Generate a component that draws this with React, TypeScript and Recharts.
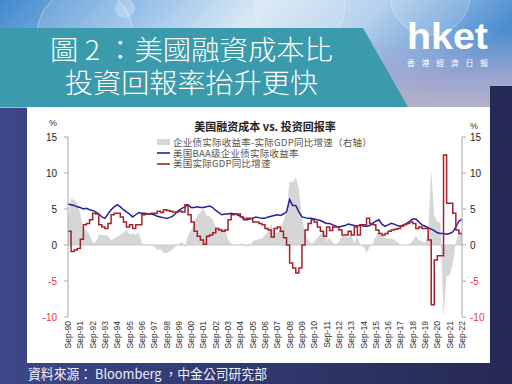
import React from 'react';
import { ComposedChart, Area, Line, XAxis, YAxis, ReferenceLine, Legend } from 'recharts';

// Quarterly observations, Sep-90 .. Sep-22
const QUARTER_MONTHS = ['Sep', 'Dec', 'Mar', 'Jun'];
const FIRST_YEAR = 90;
const N_POINTS = 129;

// 美国BAA级企业债实际收益率 (%)
const baaRealYield: number[] = [
  5.7, 5.6, 5.5, 5.3,
  5.2, 5.0, 5.1, 4.9,
  4.8, 4.6, 4.3, 3.9,
  3.7, 4.3, 4.9, 5.3,
  5.6, 5.3, 4.9, 4.6,
  4.3, 3.9, 4.2, 4.5,
  4.4, 4.4, 4.3, 4.3,
  4.2, 4.0, 3.9, 3.8,
  3.7, 3.8, 4.0, 4.4,
  4.8, 5.1, 5.3, 5.6,
  5.2, 5.2, 5.3, 5.2,
  5.2, 5.3, 5.4, 5.2,
  4.8, 4.5, 4.2, 4.3,
  4.3, 4.4, 4.3, 4.2,
  4.0, 3.7, 3.5, 3.6,
  3.7, 3.9, 3.8, 3.7,
  3.7, 3.9, 4.0, 4.1,
  4.2, 4.1, 4.3, 4.6,
  6.3, 5.5, 5.5, 4.6,
  3.9, 3.8, 3.7, 3.7,
  3.6, 3.5, 3.4, 3.2,
  3.0, 3.0, 2.8, 2.6,
  2.5, 2.6, 2.7, 2.9,
  2.8, 2.7, 2.6, 2.8,
  2.6, 2.6, 2.7, 3.0,
  3.3, 3.5, 2.9, 2.6,
  2.8, 3.0, 2.9, 2.7,
  2.6, 2.8, 3.0, 3.3,
  3.6, 3.6, 3.2, 2.8,
  2.6, 2.4, 2.2, 2.0,
  1.7, 1.6, 1.6, 1.5,
  1.6, 1.8, 2.5, 3.3,
  3.6,
];

// 美国实际GDP同比增速 (%)
const realGdpYoy: number[] = [
  1.9, -0.9, -0.7, -0.5,
  0.8, 2.8, 3.0, 3.5,
  4.4, 4.3, 2.8, 2.5,
  2.3, 3.0, 4.2, 4.4,
  4.4, 3.9, 3.2, 2.5,
  2.8, 2.3, 2.8, 2.8,
  4.2, 4.3, 4.3, 4.4,
  4.4, 4.7, 4.5, 4.9,
  4.8, 4.7, 4.6, 4.6,
  4.7, 4.6, 5.6, 4.2,
  3.2, 1.9, 1.2, 0.7,
  0.1, 1.2, 1.4, 1.7,
  2.3, 2.1, 1.9, 2.1,
  3.5, 4.2, 4.3, 4.3,
  3.9, 3.5, 3.7, 3.7,
  3.2, 3.2, 3.0, 2.8,
  2.3, 2.1, 1.1, 2.3,
  2.5, 1.9, 1.0, 0.0,
  -2.5, -3.2, -3.9, -3.2,
  0.0, 2.1, 3.0, 3.5,
  3.2, 2.5, 1.9, 1.2,
  2.5, 2.0, 2.5, 2.5,
  2.1, 1.4, 1.4, 1.9,
  1.4, 2.5, 1.4, 2.8,
  2.8, 3.7, 3.0, 2.8,
  2.1, 1.6, 1.4, 1.6,
  1.9, 2.1, 2.2, 2.3,
  2.6, 2.8, 3.0, 3.2,
  3.0, 2.3, 2.5, 2.3,
  2.3, 0.7, -8.3, -2.1,
  -1.5, -1.5, 12.5, 5.8,
  5.8, 4.4, 2.1, 1.6,
  1.6,
];

// 企业债实际收益率-实际GDP同比增速（右轴）(%)
const spread: number[] = [
  3.8, 6.5, 6.2, 5.8,
  4.4, 2.2, 2.1, 1.4,
  0.4, 0.3, 1.5, 1.4,
  1.4, 1.3, 0.7, 0.9,
  1.2, 1.4, 1.7, 2.1,
  1.5, 1.6, 1.4, 1.7,
  0.2, 0.1, 0.0, -0.1,
  -0.2, -0.7, -0.6, -1.1,
  -1.1, -0.9, -0.6, -0.2,
  0.1, 0.5, -0.3, 1.4,
  2.0, 3.3, 4.1, 4.5,
  5.1, 4.1, 4.0, 3.5,
  2.5, 2.4, 2.3, 2.2,
  0.8, 0.2, 0.0, -0.1,
  0.1, 0.2, -0.2, -0.1,
  0.5, 0.7, 0.8, 0.9,
  1.4, 1.8, 2.9, 1.8,
  1.7, 2.2, 3.3, 4.6,
  8.8, 8.7, 9.4, 7.8,
  3.9, 1.7, 0.7, 0.2,
  0.4, 1.0, 1.5, 2.0,
  0.5, 1.0, 0.3, 0.1,
  0.4, 1.2, 1.3, 1.0,
  1.4, 0.2, 1.2, 0.0,
  -0.2, -1.1, -0.3, 0.2,
  1.2, 1.9, 1.5, 1.0,
  0.9, 0.9, 0.7, 0.4,
  0.0, 0.0, 0.0, 0.1,
  0.6, 1.3, 0.7, 0.5,
  0.3, 1.7, 10.5, 4.1,
  3.2, 3.1, -10.0, -4.3,
  -4.2, -2.6, 0.4, 1.7,
  2.0,
];

const leftTicks = [15, 12.5, 10, 7.5, 5, 2.5, 0, -2.5, -5, -7.5, -10];
const leftTickLabels = ['15', '13', '10', '8', '5', '3', '0', '-3', '-5', '-8', '-10'];
const rightTicks = [15, 10, 5, 0, -5, -10];
const rightTickLabels = ['15', '10', '5', '0', '-5', '-10'];

const legendItems = [
  { label: '企业债实际收益率-实际GDP同比增速（右轴）', color: '#d6d6d6', kind: 'rect' },
  { label: '美国BAA级企业债实际收益率', color: '#2222a0', kind: 'line' },
  { label: '美国实际GDP同比增速', color: '#a3222a', kind: 'line' },
];

const categories: string[] = [];
for (let i = 0; i < N_POINTS; i++) {
  const yy = (FIRST_YEAR + Math.floor((i + 2) / 4)) % 100;
  categories.push(`${QUARTER_MONTHS[i % 4]}-${String(yy).padStart(2, '0')}`);
}

const data = categories.map((label, i) => ({
  label,
  baa: baaRealYield[i],
  gdp: realGdpYoy[i],
  spread: spread[i],
}));

const NEG = '#ee3340';
const POS = '#222222';
const LATIN = '"Liberation Sans", Arial, sans-serif';

const XTick = (props: any) => {
  const { x, y, payload } = props;
  return (
    <text
      x={x}
      y={y}
      transform={`rotate(-90, ${x}, ${y})`}
      textAnchor="end"
      dominantBaseline="central"
      fontSize={8.5}
      fontFamily={LATIN}
      fill="#333"
    >
      {payload.value}
    </text>
  );
};

const makeYTick = (ticks: number[], labels: string[]) => (props: any) => {
  const { x, y, payload, textAnchor } = props;
  const idx = ticks.indexOf(payload.value);
  const v = payload.value as number;
  return (
    <text
      x={x}
      y={y}
      dy="0.35em"
      textAnchor={textAnchor}
      fontSize={10}
      fontFamily={LATIN}
      fill={v < 0 ? NEG : POS}
    >
      {idx >= 0 ? labels[idx] : String(v)}
    </text>
  );
};

const LeftTick = makeYTick(leftTicks, leftTickLabels);
const RightTick = makeYTick(rightTicks, rightTickLabels);

const renderLegend = () => (
  <div style={{ fontFamily: '"Noto Sans CJK SC", sans-serif', fontSize: 9.5, color: '#555', lineHeight: '10.7px' }}>
    {legendItems.map((it) => (
      <div key={it.label} style={{ display: 'flex', alignItems: 'center', height: 10.7, lineHeight: '10.7px', whiteSpace: 'nowrap' }}>
        <svg width={13} height={8} style={{ marginRight: 3, flex: 'none' }}>
          {it.kind === 'rect' ? (
            <rect x={0} y={1} width={13} height={6} fill={it.color} />
          ) : (
            <line x1={0} y1={4} x2={13} y2={4} stroke={it.color} strokeWidth={1.6} />
          )}
        </svg>
        <span style={{ lineHeight: '10.7px', letterSpacing: 0.25 }}>{it.label}</span>
      </div>
    ))}
  </div>
);

const Background = () => (
  <svg width={512} height={384} style={{ position: 'absolute', left: 0, top: 0 }}>
    <defs>
      <linearGradient id="navy" x1="0" y1="0" x2="1" y2="0">
        <stop offset="0" stopColor="#3d4789" />
        <stop offset="1" stopColor="#252a52" />
      </linearGradient>
      <linearGradient id="sky" x1="0" y1="0" x2="1" y2="0.2">
        <stop offset="0" stopColor="#4289cd" />
        <stop offset="0.25" stopColor="#8fbce6" />
        <stop offset="0.5" stopColor="#d8e8f5" />
        <stop offset="0.72" stopColor="#b7d2ee" />
        <stop offset="1" stopColor="#4a8dd0" />
      </linearGradient>
      <linearGradient id="fade" x1="0" y1="0" x2="0" y2="1">
        <stop offset="0" stopColor="#a9aed6" stopOpacity="0" />
        <stop offset="0.6" stopColor="#a7a9d0" stopOpacity="0.85" />
        <stop offset="1" stopColor="#b6b2c6" stopOpacity="1" />
      </linearGradient>
    </defs>
    <rect x={0} y={0} width={512} height={384} fill="url(#navy)" />
    <rect x={0} y={0} width={512} height={108} fill="url(#sky)" />
    <rect x={0} y={30} width={512} height={78} fill="url(#fade)" />
    <circle cx={85} cy={35} r={48} fill="#ffffff" fillOpacity={0.12} stroke="#ffffff" strokeOpacity={0.35} />
    <circle cx={125} cy={8} r={10} fill="#ffffff" fillOpacity={0.25} />
    <circle cx={300} cy={5} r={45} fill="#ffffff" fillOpacity={0.1} stroke="#ffffff" strokeOpacity={0.3} />
    <circle cx={430} cy={-5} r={40} fill="#ffffff" fillOpacity={0.12} stroke="#ffffff" strokeOpacity={0.35} />
    <rect x={490} y={86} width={22} height={298} fill="#262b55" />
    <polygon points="0,28 363,28 408,107 0,107" fill="#3b9aab" />
    <rect x={27} y={107} width={463} height={256} fill="#ffffff" />

    <text x={50} y={60} textLength={283} lengthAdjust="spacingAndGlyphs" fontSize={27}
      fontFamily='"Noto Sans CJK TC", sans-serif' fontWeight={300} fill="#ffffff">圖 2 ：美國融資成本比</text>
    <text x={65} y={92.5} textLength={253} lengthAdjust="spacingAndGlyphs" fontSize={27}
      fontFamily='"Noto Sans CJK TC", sans-serif' fontWeight={300} fill="#ffffff">投資回報率抬升更快</text>

    <text x={407} y={49} textLength={81} lengthAdjust="spacingAndGlyphs" fontSize={36} fontWeight="bold"
      fontFamily={LATIN} fill="#ffffff">hket</text>
    <text x={407} y={65.5} textLength={81} lengthAdjust="spacing" fontSize={8}
      fontFamily='"Noto Sans CJK TC", sans-serif' fill="#ffffff">香港經濟日報</text>

    <text x={28} y={379} textLength={239} lengthAdjust="spacingAndGlyphs" fontSize={13.5}
      fontFamily='"Noto Sans CJK TC", sans-serif' fill="#eef0fa">資料來源： Bloomberg ，中金公司研究部</text>

    <text x={265} y={131} textAnchor="middle" fontSize={11} fontWeight="bold"
      fontFamily='"Noto Sans CJK SC", sans-serif' fill="#222">美国融资成本 vs. 投资回报率</text>
    <text x={57} y={126} textAnchor="end" fontSize={9} fontFamily={LATIN} fill="#333">%</text>
    <text x={470} y={129} fontSize={9} fontFamily={LATIN} fill="#333">%</text>
  </svg>
);

export default function App() {
  return (
    <div style={{ position: 'absolute', left: 0, top: 0, width: 512, height: 384, overflow: 'hidden' }}>
      <Background />
      <div style={{ position: 'absolute', left: 0, top: 0 }}>
        <ComposedChart
          width={512}
          height={384}
          data={data}
          margin={{ top: 137, right: 20, bottom: 27, left: 28 }}
        >
          <XAxis
            dataKey="label"
            scale="point"
            interval={3}
            axisLine={false}
            tickLine={false}
            tickSize={2}
            tickMargin={2}
            height={40}
            tick={<XTick />}
          />
          <YAxis
            yAxisId="left"
            orientation="left"
            domain={[-10, 15]}
            ticks={leftTicks}
            allowDataOverflow
            width={40}
            tickSize={4}
            tickMargin={7}
            axisLine={{ stroke: '#a8a8a8' }}
            tickLine={{ stroke: '#a8a8a8' }}
            tick={<LeftTick />}
          />
          <YAxis
            yAxisId="right"
            orientation="right"
            domain={[-10, 15]}
            ticks={rightTicks}
            allowDataOverflow
            width={30}
            tickSize={4}
            tickMargin={4}
            axisLine={{ stroke: '#a8a8a8' }}
            tickLine={{ stroke: '#a8a8a8' }}
            tick={<RightTick />}
          />
          <Legend
            layout="vertical"
            align="center"
            verticalAlign="middle"
            content={renderLegend}
            wrapperStyle={{ left: 157, top: 137, width: 240 }}
          />
          <Area
            yAxisId="right"
            type="linear"
            dataKey="spread"
            fill="#d6d6d6"
            fillOpacity={1}
            stroke="none"
            isAnimationActive={false}
          />
          <ReferenceLine yAxisId="left" y={0} stroke="#c8c8c8" strokeWidth={1} />
          <Line
            yAxisId="left"
            type="linear"
            dataKey="baa"
            stroke="#2222a0"
            strokeWidth={1.5}
            dot={false}
            isAnimationActive={false}
          />
          <Line
            yAxisId="left"
            type="stepAfter"
            dataKey="gdp"
            stroke="#a3222a"
            strokeWidth={1.5}
            dot={false}
            isAnimationActive={false}
          />
        </ComposedChart>
      </div>
    </div>
  );
}
